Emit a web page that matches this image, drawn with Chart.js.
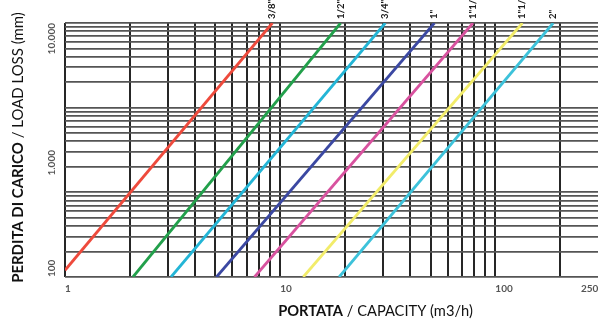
<!DOCTYPE html>
<html>
<head>
<meta charset="utf-8">
<script src="https://cdn.jsdelivr.net/npm/chart.js@4/dist/chart.umd.min.js"></script>
<style>
  html, body { margin: 0; padding: 0; background: #fff; }
  #wrap { width: 598px; height: 320px; }
</style>
</head>
<body>
<div id="wrap"><canvas id="c" width="598" height="320"></canvas></div>
<script>
// Pipe sizes and the two ends of each head-loss line (flow in m3/h, loss in mm)
const sizes = ['3/8"', '1/2"', '3/4"', '1"', '1"1/4', '1"1/2', '2"'];
const flowLow = [1.0, 2.07, 3.11, 5.06, 7.6, 12.8, 18.8];
const lossLow = [113, 100, 100, 100, 100, 100, 100];
const flowHigh = [9.2, 19.1, 30.8, 52.1, 78.7, 133.6, 185.7];
const lossHigh = [10000, 10000, 10000, 10000, 10000, 10000, 10000];
const lineColors = ['#ee4a3c', '#22a04b', '#23b5d6', '#3b48a2', '#d8529f', '#f2ec6a', '#3dc2da'];

// Axis labels
const xTickValues = [1, 10, 100, 250];
const xTickLabels = ['1', '10', '100', '250'];
const yTickValues = [100, 1000, 10000];
const yTickLabels = ['100', '1.000', '10.000'];

// Paper grid: vertical rulings and the three-cycle horizontal rulings
const xGridValues = [1, 2, 3, 4, 5, 6, 7, 8, 9, 10, 20, 30, 40, 50, 60, 70, 80, 90, 100, 200];
const yGridValues = [1, 2, 3, 4, 5, 6, 7, 8, 9, 10, 20, 30, 40, 50, 60, 70, 80, 90,
                     100, 200, 300, 400, 500, 600, 700, 800, 900, 1000];

const FONT = 'Lato, "Open Sans", sans-serif';

const datasets = sizes.map((s, i) => ({
  label: s,
  data: [{ x: flowLow[i], y: lossLow[i] }, { x: flowHigh[i], y: lossHigh[i] }],
  borderColor: lineColors[i],
  borderWidth: 2.8,
  pointRadius: 0,
  fill: false,
  xAxisID: 'x',
  yAxisID: 'y'
}));

// Writes a title made of bold and regular runs, centred on the origin and
// sized so the whole run covers the given length.
function drawMixed(ctx, parts, length) {
  const measure = size => parts.map(p => {
    ctx.font = (p.bold ? 'bold ' : '') + size + 'px ' + FONT;
    return ctx.measureText(p.text).width;
  });
  const base = measure(13).reduce((a, b) => a + b, 0);
  const size = 13 * length / base;
  const widths = measure(size);
  const total = widths.reduce((a, b) => a + b, 0);
  let pos = -total / 2;
  parts.forEach((p, i) => {
    ctx.font = (p.bold ? 'bold ' : '') + size + 'px ' + FONT;
    ctx.fillText(p.text, pos, 0);
    pos += widths[i];
  });
}

const textPlugin = {
  id: 'chartText',
  afterDraw(chart) {
    const { ctx, chartArea, scales } = chart;
    const xs = scales.x, ys = scales.y;
    ctx.save();

    // x tick labels
    ctx.fillStyle = '#555';
    ctx.font = 'bold 10px ' + FONT;
    ctx.textAlign = 'left';
    ctx.textBaseline = 'middle';
    xTickValues.forEach((v, i) => {
      ctx.fillText(xTickLabels[i], xs.getPixelForValue(v), chartArea.bottom + 12);
    });

    // y tick labels, set on their side
    yTickValues.forEach((v, i) => {
      ctx.save();
      ctx.translate(chartArea.left - 13, ys.getPixelForValue(v));
      ctx.rotate(-Math.PI / 2);
      ctx.textAlign = i === 0 ? 'left' : 'right';
      ctx.fillText(yTickLabels[i], 0, 0);
      ctx.restore();
    });

    // pipe size tags above the top end of each line
    ctx.fillStyle = '#1a1a1a';
    ctx.font = 'bold 9.5px ' + FONT;
    sizes.forEach((s, i) => {
      ctx.save();
      ctx.translate(xs.getPixelForValue(flowHigh[i]), chartArea.top - 4);
      ctx.rotate(-Math.PI / 2);
      ctx.textAlign = 'left';
      ctx.fillText(s, 0, 0);
      ctx.restore();
    });

    // axis titles
    ctx.fillStyle = '#111';
    ctx.textAlign = 'left';
    ctx.save();
    ctx.translate(18, 147.5);
    ctx.rotate(-Math.PI / 2);
    drawMixed(ctx, [{ text: 'PERDITA DI CARICO', bold: true }, { text: ' / LOAD LOSS (mm)', bold: false }], 271);
    ctx.restore();

    ctx.save();
    ctx.translate(375.5, 311);
    drawMixed(ctx, [{ text: 'PORTATA', bold: true }, { text: ' / CAPACITY (m3/h)', bold: false }], 195);
    ctx.restore();

    ctx.restore();
  }
};

new Chart(document.getElementById('c'), {
  type: 'line',
  data: { datasets },
  options: {
    responsive: false,
    animation: false,
    layout: { padding: { left: 65, top: 23, right: 0, bottom: 43 } },
    plugins: { legend: { display: false }, tooltip: { enabled: false } },
    scales: {
      x: {
        type: 'logarithmic',
        position: 'bottom',
        min: 1,
        max: 300,
        afterBuildTicks: s => { s.ticks = xGridValues.map(v => ({ value: v })); },
        ticks: { display: false },
        border: { display: false },
        grid: { color: '#262626', lineWidth: 2, drawTicks: false }
      },
      y: {
        type: 'logarithmic',
        position: 'left',
        min: 100,
        max: 10000,
        display: false
      },
      cycles: {
        type: 'logarithmic',
        position: 'left',
        min: 1,
        max: 1000,
        afterBuildTicks: s => { s.ticks = yGridValues.map(v => ({ value: v })); },
        ticks: { display: false },
        border: { display: false },
        grid: { color: '#555', lineWidth: 1.8, drawTicks: false }
      }
    }
  },
  plugins: [textPlugin]
});
</script>
</body>
</html>
